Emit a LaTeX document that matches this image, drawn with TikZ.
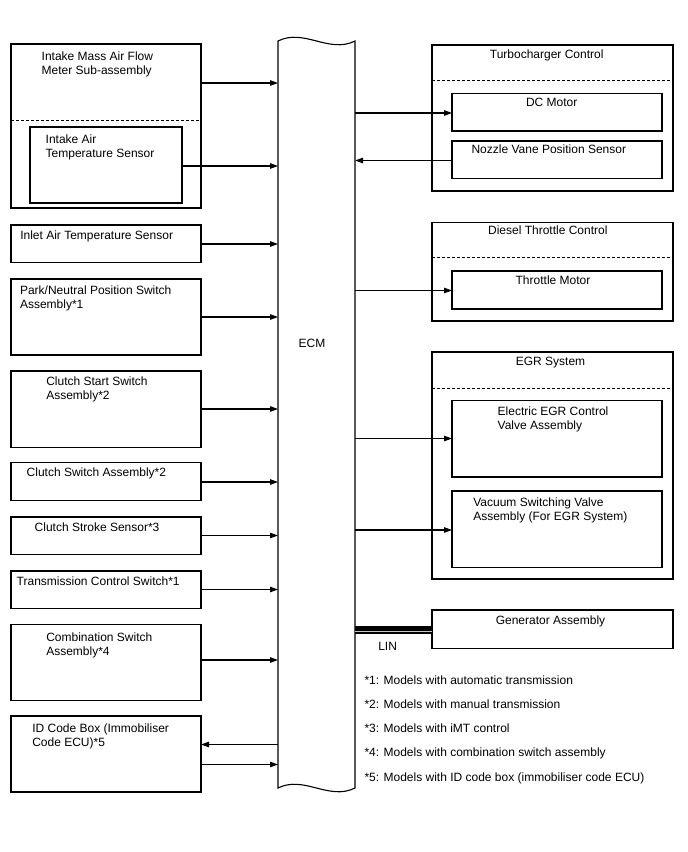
\documentclass[tikz,border=0pt]{standalone}
\usepackage{fontspec}
\setmainfont{Liberation Sans}
\usetikzlibrary{arrows.meta}
\begin{document}
\begin{tikzpicture}[x=1pt,y=-1pt,
 box/.style={draw, line width=1.1pt, inner sep=0pt, outer sep=0pt},
 lbl/.style={inner sep=0pt, outer sep=0pt, align=left, anchor=north west, font=\fontsize{12}{14}\selectfont},
 ttl/.style={inner sep=0pt, outer sep=0pt, anchor=base, font=\fontsize{12}{14}\selectfont},
 note/.style={inner sep=0pt, outer sep=0pt, anchor=base west, font=\fontsize{12}{14}\selectfont},
 arr/.style={line width=1.1pt, -{Triangle[length=8pt,width=5.5pt]}},
 dsh/.style={line width=1pt, dash pattern=on 3pt off 2pt}]
\useasboundingbox (0,0) rectangle (688,852);

% ECM
\node[inner sep=0pt, outer sep=0pt, minimum width=77pt, minimum height=747pt] (ecm) at (316.5,414.5) {};
\draw[line width=1.1pt] (278,41) .. controls (304,28) and (329,54) .. (355,41)
  -- (355,788) .. controls (329,801) and (304,775) .. (278,788) -- cycle;
\node[ttl] (ecmlbl) at (312,347.3) {ECM};

% left boxes
\node[box, minimum width=190pt, minimum height=164pt] (maf) at (106,126) {};
\draw[dsh] (maf.west |- 0,120) -- (maf.east |- 0,120);
\node[box, minimum width=152pt, minimum height=76pt] (iat) at (106,165) {};
\node[box, minimum width=190pt, minimum height=37.5pt] (inlet) at (106,243.75) {};
\node[box, minimum width=190pt, minimum height=76pt] (pnp) at (106,317) {};
\node[box, minimum width=190pt, minimum height=76.5pt] (css) at (106,409.25) {};
\node[box, minimum width=190pt, minimum height=38pt] (csw) at (106,481.5) {};
\node[box, minimum width=190pt, minimum height=37.5pt] (cst) at (106,535.75) {};
\node[box, minimum width=190pt, minimum height=37.5pt] (tcs) at (106,589.75) {};
\node[box, minimum width=190pt, minimum height=76pt] (comb) at (106,662.5) {};
\node[box, minimum width=190pt, minimum height=76pt] (idb) at (106,754) {};

\node[lbl] (maft) at (41.7,52.3) {Intake Mass Air Flow\\Meter Sub-assembly};
\node[lbl] (iatt) at (45.7,134.6) {Intake Air\\Temperature Sensor};
\node[lbl] (inlett) at (20.3,230.3) {Inlet Air Temperature Sensor};
\node[lbl] (pnpt) at (20,285.3) {Park/Neutral Position Switch\\Assembly*1};
\node[lbl] (csst) at (46.3,376.3) {Clutch Start Switch\\Assembly*2};
\node[lbl] (cswt) at (26.7,468) {Clutch Switch Assembly*2};
\node[lbl] (cstt) at (34.7,523) {Clutch Stroke Sensor*3};
\node[lbl] (tcst) at (16.7,577) {Transmission Control Switch*1};
\node[lbl] (combt) at (46.3,632.3) {Combination Switch\\Assembly*4};
\node[lbl] (idbt) at (32.3,723.6) {ID Code Box (Immobiliser\\Code ECU)*5};

% left arrows
\draw[arr] (maf.east |- 0,83) -- (ecm.west |- 0,83);
\draw[arr] (iat.east |- 0,166) -- (ecm.west |- 0,166);
\draw[arr] (inlet.east |- 0,244) -- (ecm.west |- 0,244);
\draw[arr] (pnp.east |- 0,317) -- (ecm.west |- 0,317);
\draw[arr] (css.east |- 0,409) -- (ecm.west |- 0,409);
\draw[arr] (csw.east |- 0,482) -- (ecm.west |- 0,482);
\draw[arr] (cst.east |- 0,535.5) -- (ecm.west |- 0,535.5);
\draw[arr] (tcs.east |- 0,589.5) -- (ecm.west |- 0,589.5);
\draw[arr] (comb.east |- 0,660) -- (ecm.west |- 0,660);
\draw[arr] (ecm.west |- 0,744.5) -- (idb.east |- 0,744.5);
\draw[arr] (idb.east |- 0,764.5) -- (ecm.west |- 0,764.5);

% right boxes
\node[box, minimum width=241pt, minimum height=146pt] (turbo) at (552.5,118) {};
\draw[dsh] (turbo.west |- 0,80) -- (turbo.east |- 0,80);
\node[box, minimum width=210pt, minimum height=37.5pt] (dcm) at (557,112.25) {};
\node[box, minimum width=210pt, minimum height=37.5pt] (nvp) at (557,159.75) {};
\node[box, minimum width=241pt, minimum height=98.5pt] (dtc) at (552.5,271.75) {};
\draw[dsh] (dtc.west |- 0,257.5) -- (dtc.east |- 0,257.5);
\node[box, minimum width=210pt, minimum height=38pt] (thm) at (557,290) {};
\node[box, minimum width=241pt, minimum height=227pt] (egr) at (552.5,465.5) {};
\draw[dsh] (egr.west |- 0,388) -- (egr.east |- 0,388);
\node[box, minimum width=210pt, minimum height=76.5pt] (eegr) at (557,438.75) {};
\node[box, minimum width=210pt, minimum height=76.5pt] (vsv) at (557,529.25) {};
\node[box, minimum width=241pt, minimum height=38.5pt] (gen) at (552.5,629.25) {};

\node[ttl] (turbot) at (546.7,58.3) {Turbocharger Control};
\node[ttl] (dcmt) at (551.7,106.7) {DC Motor};
\node[ttl] (nvpt) at (548.8,153.3) {Nozzle Vane Position Sensor};
\node[ttl] (dtct) at (547.8,234.3) {Diesel Throttle Control};
\node[ttl] (thmt) at (553,284.3) {Throttle Motor};
\node[ttl] (egrt) at (550.5,365) {EGR System};
\node[lbl] (eegrt) at (497.7,406.3) {Electric EGR Control\\Valve Assembly};
\node[lbl] (vsvt) at (473.3,498) {Vacuum Switching Valve\\Assembly (For EGR System)};
\node[ttl] (gent) at (550.5,624.3) {Generator Assembly};

% right arrows
\draw[arr] (ecm.east |- 0,113) -- (dcm.west |- 0,113);
\draw[arr] (nvp.west |- 0,160.5) -- (ecm.east |- 0,160.5);
\draw[arr] (ecm.east |- 0,290.5) -- (thm.west |- 0,290.5);
\draw[arr] (ecm.east |- 0,438.5) -- (eegr.west |- 0,438.5);
\draw[arr] (ecm.east |- 0,530) -- (vsv.west |- 0,530);

% LIN
\draw[line width=8pt] (ecm.east |- 0,629.5) -- (gen.west |- 0,629.5);
\draw[line width=1.4pt, gray!45] (ecm.east |- 0,631.2) -- (gen.west |- 0,631.2);
\node[note] (lin) at (378.3,650.7) {LIN};

% notes
\node[note] (n1) at (364.5,684) {*1: Models with automatic transmission};
\node[note] (n2) at (364.5,708.3) {*2: Models with manual transmission};
\node[note] (n3) at (364.5,732.7) {*3: Models with iMT control};
\node[note] (n4) at (364.5,756.7) {*4: Models with combination switch assembly};
\node[note] (n5) at (364.5,781.7) {*5: Models with ID code box (immobiliser code ECU)};
\end{tikzpicture}
\end{document}
